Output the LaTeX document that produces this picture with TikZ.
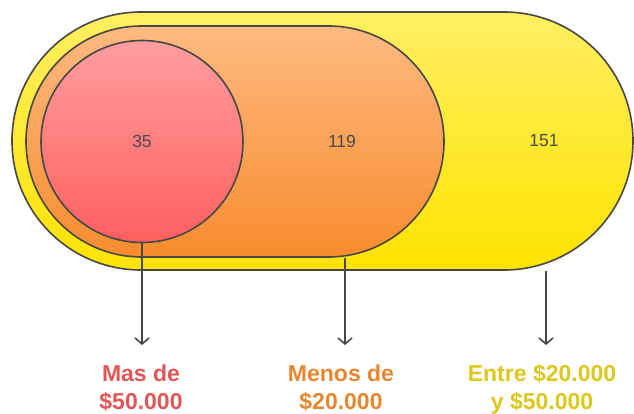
\documentclass[tikz,border=0pt]{standalone}
\usepackage{fontspec}
\setmainfont{Liberation Sans}
\usetikzlibrary{shapes.misc,arrows.meta}
\definecolor{edgec}{HTML}{474747}
\definecolor{numc}{HTML}{4A4A4A}
\definecolor{redtop}{HTML}{FF9E9E}
\definecolor{redbot}{HTML}{FF5F5F}
\definecolor{ortop}{HTML}{FDBA80}
\definecolor{orbot}{HTML}{F78C2E}
\definecolor{yetop}{HTML}{FFEF62}
\definecolor{yebot}{HTML}{FFE300}
\definecolor{redlab}{HTML}{E25656}
\definecolor{orlab}{HTML}{E8862F}
\definecolor{yelab}{HTML}{DCC71C}
\tikzset{
  setshape/.style={draw=edgec, line width=1.6pt, inner sep=0pt},
  num/.style={text=numc, font=\fontsize{17.5}{20}\selectfont},
  lab/.style={align=center, inner sep=0pt, font=\bfseries\fontsize{23}{28}\selectfont},
  conn/.style={draw=edgec, line width=1.6pt, -{Straight Barb[length=6pt,width=14pt]}}
}
\begin{document}
\begin{tikzpicture}[x=1pt,y=-1pt]
\useasboundingbox (0,0) rectangle (634,414);
\node[setshape, rounded rectangle, top color=yetop, bottom color=yebot,
      minimum width=621pt, minimum height=258pt] (outer) at (322.5,141) {};
\node[setshape, rounded rectangle, top color=ortop, bottom color=orbot,
      minimum width=418pt, minimum height=231pt] (mid) at (235,141.5) {};
\node[setshape, circle, top color=redtop, bottom color=redbot,
      minimum size=202pt] (inner) at (142,141.5) {};
\node[num] (n35) at (142,141) {35};
\node[num] (n119) at (342,141) {119};
\node[num] (n151) at (544,141) {151};
\node[lab, text=redlab, anchor=base] (l1) at (141,409) {Mas de\\\$50.000};
\node[lab, text=orlab, anchor=base] (l2) at (341,409) {Menos de\\\$20.000};
\node[lab, text=yelab, anchor=base] (l3) at (542,409) {Entre \$20.000\\y \$50.000};
\coordinate (t1) at (142,345);
\coordinate (t2) at (345,345);
\coordinate (t3) at (546,345);
\path[conn] (inner.south) -- (t1);
\path[conn] (mid.south -| t2) -- (t2);
\path[conn] (outer.south -| t3) -- (t3);
\end{tikzpicture}
\end{document}
